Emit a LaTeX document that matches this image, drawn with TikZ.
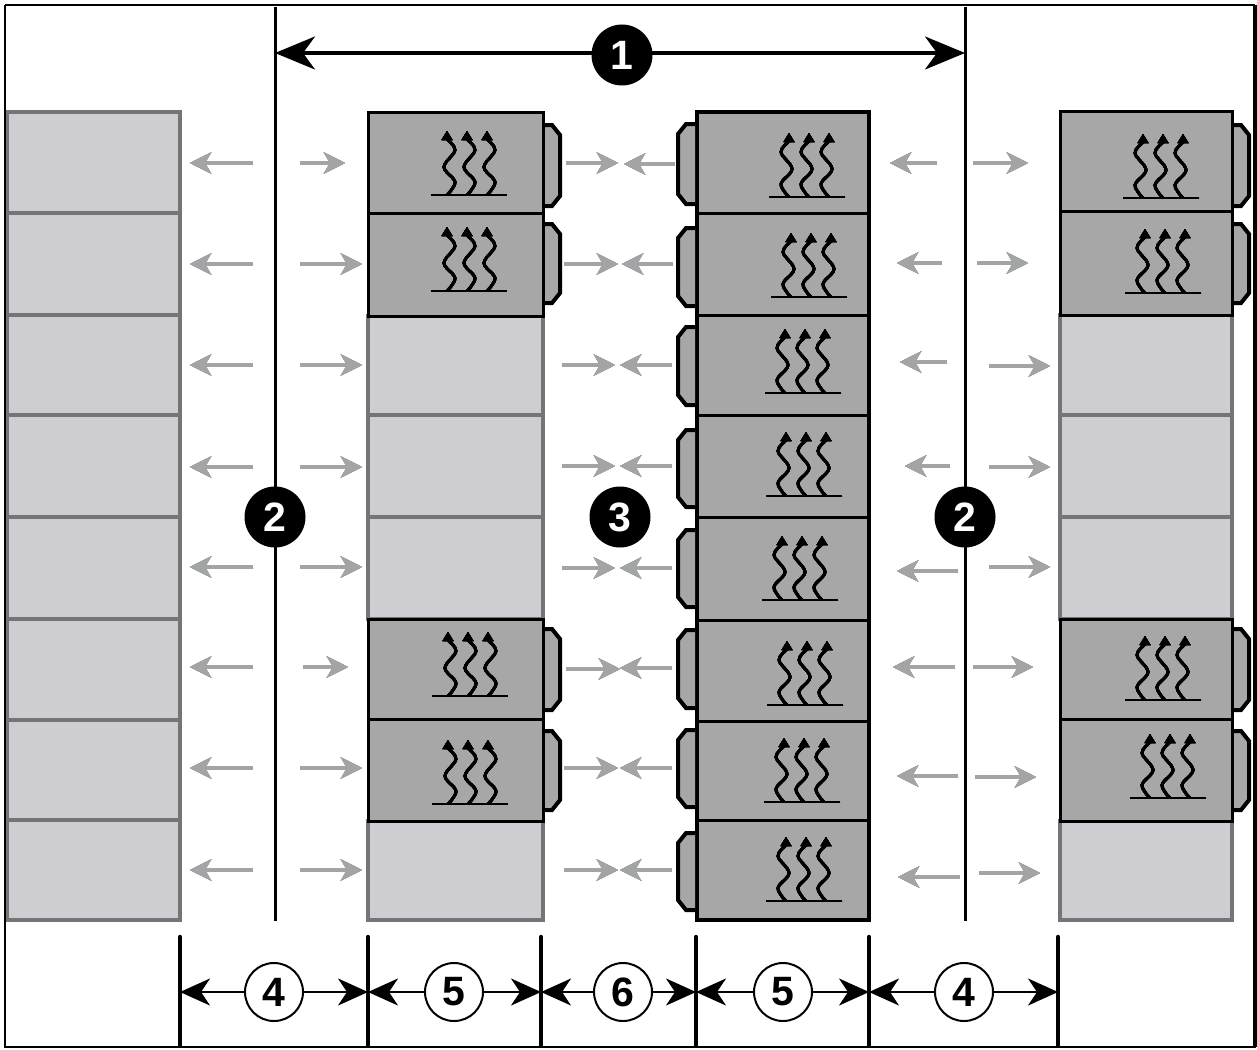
\documentclass[tikz,border=0pt]{standalone}
\usepackage{fontspec}
\setmainfont{Liberation Sans}
\usetikzlibrary{arrows.meta}
\definecolor{lightcell}{HTML}{CDCDD2}
\definecolor{darkcell}{HTML}{A7A7A8}
\definecolor{cellgrey}{HTML}{757577}
\definecolor{flowgrey}{HTML}{A2A4A6}
\tikzset{
  lightbox/.style={fill=lightcell,draw=cellgrey,line width=3.5pt},
  darkbox/.style={fill=darkcell,draw=black,line width=3pt,line join=miter},
  tabshape/.style={fill=darkcell,draw=black,line width=4pt,line join=miter},
  flowr/.style={draw=flowgrey,line width=3.5pt,-{Stealth[length=21pt,width=21pt,inset=6pt]}},
  heatline/.style={draw=black,line width=2.7pt},
  mainline/.style={draw=black,line width=3pt},
  ticksty/.style={draw=black,line width=4.5pt,line cap=round},
  spanarrow/.style={draw=black,line width=3.5pt,-{Stealth[length=40pt,width=33pt,inset=12pt]}},
  dimarrow/.style={draw=black,line width=2.5pt,-{Stealth[length=30pt,width=27pt,inset=9pt]}},
  blackbadge/.style={circle,fill=black,text=white,minimum size=61pt,inner sep=0pt,font=\fontsize{41}{41}\selectfont\bfseries},
  whitebadge/.style={circle,fill=white,draw=black,line width=2pt,minimum size=58pt,inner sep=0pt,font=\fontsize{41}{41}\selectfont\bfseries},
}
\newcommand{\onewave}[1]{%
  \draw[heatline,line join=round] plot[smooth,tension=0.6] coordinates {(#1,0) (#1+8,-13) (#1-3,-28) (#1+8,-45) (#1-1,-57) (#1,-60)};
  \fill (#1-5.5,-55) -- (#1,-64) -- (#1+5.5,-55) -- cycle;
}
\newcommand{\heatsym}[3]{%
  \begin{scope}[shift={(#1+38,#2)},xscale=#3]
    \draw[heatline] (-38,0) -- (38,0);
    \onewave{-22}\onewave{-2}\onewave{18}
  \end{scope}
}
\newcommand{\righttab}[3]{\draw[tabshape] (#1,#2) -- (#1+7,#2) -- (#1+15,#2+10) -- (#1+15,#3-10) -- (#1+7,#3) -- (#1,#3);}
\newcommand{\lefttab}[3]{\draw[tabshape] (#1,#2) -- (#1-9,#2) -- (#1-17,#2+10) -- (#1-17,#3-10) -- (#1-9,#3) -- (#1,#3);}
\newcommand{\flowarrow}[3]{\draw[flowr] (#1,#3) -- (#2,#3);}
\begin{document}
\begin{tikzpicture}[x=1pt,y=-1pt]
\useasboundingbox (0,0) rectangle (1257,1049);
\fill[white] (0,0) rectangle (1257,1049);
\foreach \ya/\yb in {112/213,213/315,315/415,415/517,517/619,619/720,720/820,820/920}
  \draw[lightbox] (7,\ya) rectangle (180,\yb);
\foreach \ya/\yb in {316/415,415/517,517/619,821/920}
  \draw[lightbox] (368,\ya) rectangle (543,\yb);
\foreach \ya/\yb in {112/213,213/316,619/719,719/821}
  \draw[darkbox] (368,\ya) rectangle (543,\yb);
\foreach \ya/\yb in {315/415,415/517,517/619,821/920}
  \draw[lightbox] (1060,\ya) rectangle (1232,\yb);
\foreach \ya/\yb in {111/211,211/315,619/719,719/821}
  \draw[darkbox] (1060,\ya) rectangle (1232,\yb);
\foreach \ya/\yb in {112/213,213/315,315/415,415/517,517/620,620/721,721/820,820/920}
  \draw[darkbox] (697,\ya) rectangle (869,\yb);
\draw[line width=4pt] (697,112) rectangle (869,920);
\foreach \ya/\yb in {125/206,224/303,629/710,731/810}{
  \righttab{545}{\ya}{\yb}
  \righttab{1234}{\ya}{\yb}
}
\foreach \ya/\yb in {124/204,228/306,327/405,430/507,530/607,630/708,730/807,833/910}
  \lefttab{695}{\ya}{\yb}
\foreach \px/\py in {431/195,431/291,432/696,432/804} {\heatsym{\px}{\py}{1}}
\foreach \px/\py in {769/197,771/297,765/393,766/496,762/600,767/705,764/802,766/901,1123/198,1125/293,1125/700,1130/798}
  {\heatsym{\px}{\py}{-1}}
\foreach \py in {163,264,365,467,567,667,768,870} {\flowarrow{253}{190}{\py}}
\foreach \ps/\pe/\py in {300/345/163,300/362/264,300/362/365,300/362/467,300/362/567,303/348/667,300/362/768,300/362/870} {\flowarrow{\ps}{\pe}{\py}}
\foreach \ps/\pe/\py in {566/618/163,564/618/264,562/615/365,562/615/466,562/615/568,566/620/669,564/618/768,564/618/870} {\flowarrow{\ps}{\pe}{\py}}
\foreach \ps/\pe/\py in {675/624/164,673/622/264,672/620/365,672/620/466,672/620/568,672/620/668,672/620/768,672/620/870} {\flowarrow{\ps}{\pe}{\py}}
\foreach \ps/\pe/\py in {937/890/163,942/897/263,947/900/362,950/905/466,958/897/571,955/893/667,958/897/776,960/898/877} {\flowarrow{\ps}{\pe}{\py}}
\foreach \ps/\pe/\py in {973/1028/163,977/1028/263,989/1050/366,989/1050/467,989/1050/567,973/1033/667,975/1036/777,979/1040/873} {\flowarrow{\ps}{\pe}{\py}}
\path (275,7) coordinate (vlt) (275,921) coordinate (vlb);
\path (965,7) coordinate (vrt) (965,921) coordinate (vrb);
\path (275,53) coordinate (sl) (965,53) coordinate (sr) (622,53) coordinate (sm);
\draw[mainline] (vlt) -- (vlb);
\draw[mainline] (vrt) -- (vrb);
\draw[spanarrow] (sm) -- (sl);
\draw[spanarrow] (sm) -- (sr);
\node[blackbadge] (one) at (622,55) {1};
\node[blackbadge] (twoa) at (275,517) {2};
\node[blackbadge] (twob) at (965,517) {2};
\node[blackbadge] (three) at (620,517) {3};
\foreach \nm/\px in {a/180,b/368,c/541,d/696,e/869,f/1058}{
  \path (\px,937) coordinate (t\nm) (\px,1045) coordinate (u\nm) (\px,992) coordinate (m\nm);
  \draw[ticksty] (t\nm) -- (u\nm);
}
\node[whitebadge] (d1) at (274,992) {4};
\node[whitebadge] (d2) at (454,992) {5};
\node[whitebadge] (d3) at (623,992) {6};
\node[whitebadge] (d4) at (783,992) {5};
\node[whitebadge] (d5) at (964,992) {4};
\draw[dimarrow] (d1.west) -- (ma); \draw[dimarrow] (d1.east) -- (mb);
\draw[dimarrow] (d2.west) -- (mb); \draw[dimarrow] (d2.east) -- (mc);
\draw[dimarrow] (d3.west) -- (mc); \draw[dimarrow] (d3.east) -- (md);
\draw[dimarrow] (d4.west) -- (md); \draw[dimarrow] (d4.east) -- (me);
\draw[dimarrow] (d5.west) -- (me); \draw[dimarrow] (d5.east) -- (mf);
\draw[black,line width=2pt] (5,5) -- (1255,5);
\draw[black,line width=2pt] (5,5) -- (5,1047) -- (1256,1047);
\draw[black,line width=4pt] (1255,5) -- (1255,1047);
\end{tikzpicture}
\end{document}
